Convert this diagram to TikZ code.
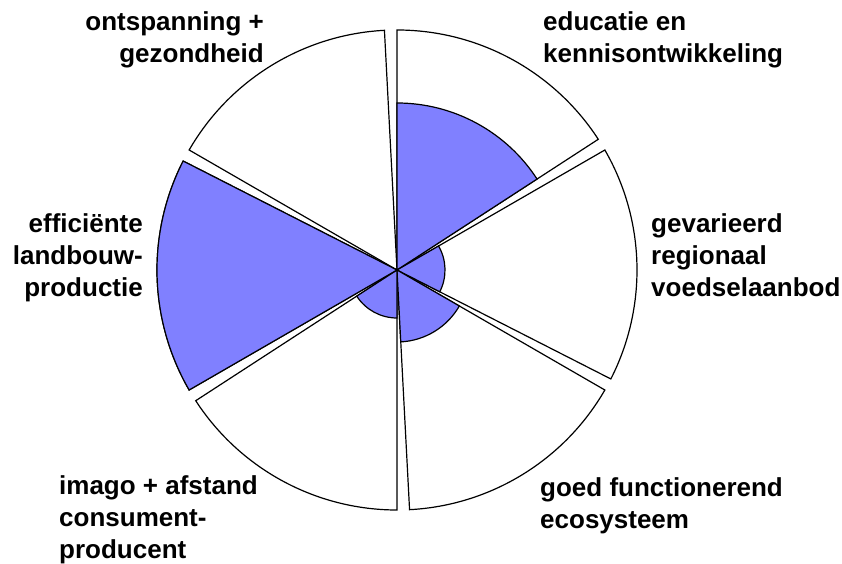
\documentclass[tikz,border=0pt]{standalone}
\usepackage{fontspec}
\setmainfont{Liberation Sans}
\usepackage{xcolor}
\definecolor{scoreblauw}{RGB}{128,128,255}

\begin{document}
\begin{tikzpicture}[x=1pt,y=1pt,
    wedge/.style={draw=black,line width=1.2pt,fill=white},
    score/.style={draw=black,line width=1.2pt,fill=scoreblauw},
    thema/.style={font=\bfseries\fontsize{26}{32}\selectfont,inner sep=0pt}]
    \useasboundingbox (-397,-294) rectangle (445,270);
    \coordinate (m) at (0,0);

    % lege taartpunten
    \foreach \a in {33,93,153,213,273,333}
        \draw[wedge] (m) -- ++(\a:240) arc[start angle=\a,end angle=\a+57,radius=240] -- cycle;

    % scores
    \foreach \a/\r in {33/167,333/48,273/72,213/48,153/240}
        \draw[score] (m) -- ++(\a:\r) arc[start angle=\a,end angle=\a+57,radius=\r] -- cycle;

    \node[thema,anchor=base east,align=right] (ontspanning) at (-133,207) {ontspanning +\\gezondheid};
    \node[thema,anchor=base west,align=left] (educatie) at (146,207) {educatie en\\kennisontwikkeling};
    \node[thema,anchor=base east,align=right] (landbouw) at (-254,-27) {efficiënte\\landbouw-\\productie};
    \node[thema,anchor=base west,align=left] (voedsel) at (254,-27) {gevarieerd\\regionaal\\voedselaanbod};
    \node[thema,anchor=base west,align=left] (imago) at (-338,-288) {imago + afstand\\consument-\\producent};
    \node[thema,anchor=base west,align=left] (ecosysteem) at (143,-258) {goed functionerend\\ecosysteem};
\end{tikzpicture}
\end{document}
